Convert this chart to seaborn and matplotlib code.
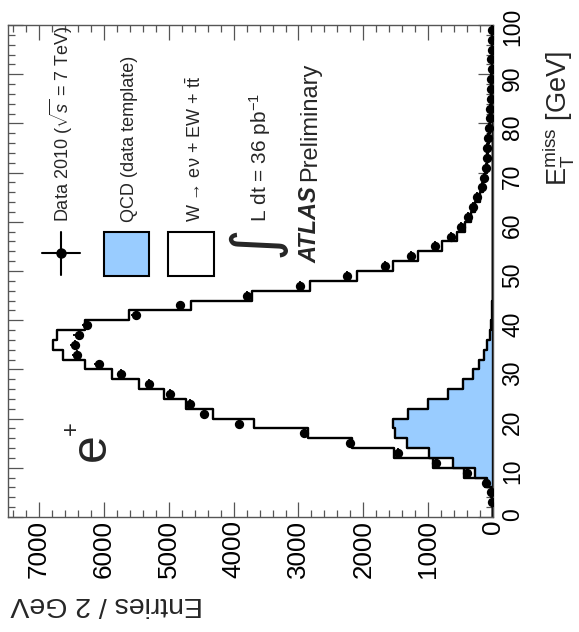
import numpy as np
import pandas as pd
import matplotlib
matplotlib.use("Agg")
import matplotlib.pyplot as plt
import seaborn as sns
from matplotlib.ticker import MultipleLocator
from matplotlib.patches import Rectangle
from matplotlib.lines import Line2D
from matplotlib.transforms import ScaledTranslation

# Missing transverse energy, 2 GeV bins from 0 to 100 GeV
bin_edges = list(range(0, 102, 2))
bin_centers = [e + 1 for e in bin_edges[:-1]]

# QCD background (data-driven template), entries per bin
qcd = [0, 4, 20, 100, 277, 620, 980, 1330, 1510, 1535,
       1315, 1005, 695, 470, 315, 210, 140, 85, 45, 30,
       15, 8, 5, 3, 2, 1, 0, 0, 0, 0,
       0, 0, 0, 0, 0, 0, 0, 0, 0, 0,
       0, 0, 0, 0, 0, 0, 0, 0, 0, 0]

# W -> e nu + EW + ttbar, entries per bin
w_ewk_ttbar = [0, 1, 5, 30, 163, 310, 550, 840, 1340, 2145,
               3005, 3735, 4385, 4990, 5565, 6090, 6490, 6705, 6685, 6260,
               5595, 4652, 3705, 2812, 2098, 1534, 1150, 790, 560, 430,
               340, 270, 205, 160, 125, 100, 85, 72, 60, 50,
               42, 36, 32, 28, 24, 21, 19, 17, 15, 13]

# Data 2010, entries per bin
data_2010 = [0, 8, 35, 110, 405, 880, 1470, 2210, 2920, 3910,
             4450, 4680, 4980, 5300, 5730, 6080, 6420, 6450, 6390, 6260,
             5510, 4820, 3790, 2980, 2250, 1670, 1265, 890, 655, 490,
             380, 315, 242, 172, 140, 108, 95, 85, 70, 58,
             48, 44, 38, 34, 28, 22, 25, 20, 18, 16]

entries_ticks = list(range(0, 8000, 1000))
met_ticks = list(range(0, 110, 10))

df = pd.DataFrame({
    "met": bin_centers,
    "qcd": qcd,
    "total": np.array(qcd) + np.array(w_ewk_ttbar),
    "data": data_2010,
})

sns.set_theme(style="white")
plt.rcParams["font.family"] = ["Liberation Sans", "DejaVu Sans"]
plt.rcParams["mathtext.fontset"] = "custom"
plt.rcParams["mathtext.rm"] = "Liberation Sans"
plt.rcParams["mathtext.it"] = "Liberation Sans:italic"
plt.rcParams["mathtext.bf"] = "Liberation Sans:bold"

W, H = 579, 632
fig = plt.figure(figsize=(W / 100, H / 100), dpi=100)
fig.patch.set_facecolor("white")
ax = fig.add_axes([8 / W, 1 - 517 / H, 485 / W, 492 / H])
ax.set_facecolor("white")

# Stacked prediction: total outline (white) with QCD (blue) on top
sns.histplot(data=df, y="met", weights="total", bins=bin_edges,
             element="step", fill=True, color="white", alpha=1,
             edgecolor="black", linewidth=1.7, ax=ax)
sns.histplot(data=df, y="met", weights="qcd", bins=bin_edges,
             element="step", fill=True, color="#99ccff", alpha=1,
             edgecolor="black", linewidth=1.7, ax=ax)

# Data points with statistical and bin-width error bars
pts = df[df["data"] > 0]
ax.errorbar(pts["data"], pts["met"], xerr=np.sqrt(pts["data"]), yerr=1.0,
            fmt="none", ecolor="black", elinewidth=1.3, zorder=4)
sns.scatterplot(data=pts, x="data", y="met", color="black", s=45,
                linewidth=0, ax=ax, zorder=5)

ax.set_xlim(7480, 0)
ax.set_ylim(0, 100)
ax.set_xticks(entries_ticks)
ax.xaxis.set_minor_locator(MultipleLocator(200))
ax.set_yticks(met_ticks)
ax.yaxis.set_minor_locator(MultipleLocator(2))

frame_col = "#555555"
for sp in ax.spines.values():
    sp.set_color(frame_col)
    sp.set_linewidth(1.0)

ax.tick_params(which="both", direction="in", top=True, bottom=True,
               left=True, right=True, color=frame_col, width=0.9)
ax.tick_params(which="major", length=10.5)
ax.tick_params(which="minor", length=5)
ax.tick_params(axis="x", labelbottom=True, labeltop=False, labelrotation=90,
               labelsize=18.7, pad=2, labelcolor="black")
ax.tick_params(axis="y", labelleft=False, labelright=True, labelrotation=90,
               labelsize=16.5, pad=6, labelcolor="black")

# Axis titles
ax.set_xlabel("Entries / 2 GeV", rotation=180, rotation_mode="anchor",
              ha="left", va="baseline", fontsize=20.5)
ax.xaxis.set_label_coords((203 - 8) / 485, (517 - 597) / 492)
ax.yaxis.set_label_position("right")
ax.set_ylabel(r"$\mathrm{E}_{\mathrm{T}}^{\mathrm{miss}}$ [GeV]", rotation=90,
              rotation_mode="anchor", ha="left", va="baseline", fontsize=19.5)
ax.yaxis.set_label_coords((567 - 8) / 485, (517 - 186) / 492)


def fx(X):
    return X / W


def fy(Y):
    return 1 - Y / H


def rtext(X, Y, s, size, rot=90, **kw):
    return fig.text(fx(X), fy(Y), s, rotation=rot, rotation_mode="anchor",
                    ha="left", va="baseline", fontsize=size, **kw)


# Legend (drawn sideways along the frame)
fig.add_artist(Line2D([fx(61), fx(61)], [fy(232), fy(275)], color="black", lw=1.5))
fig.add_artist(Line2D([fx(42), fx(80)], [fy(253), fy(253)], color="black", lw=1.5))
fig.add_artist(Line2D([fx(61)], [fy(253)], marker="o", ms=6.5, color="black"))
fig.add_artist(Rectangle((fx(104), fy(276)), 45 / W, 44 / H, transform=fig.transFigure,
                         facecolor="#99ccff", edgecolor="black", lw=1.5))
fig.add_artist(Rectangle((fx(168), fy(276)), 46 / W, 44 / H, transform=fig.transFigure,
                         facecolor="white", edgecolor="black", lw=1.5))

rtext(69, 222, r"Data 2010 ($\sqrt{s}$ = 7 TeV)", 13)
rtext(134, 222, "QCD (data template)", 13)
rtext(201, 222, "W \u2192 e\u03bd + EW + t$\\bar{\\mathrm{t}}$", 13)
fig.text(fx(256), fy(241), "\u222b", rotation=90, ha="center", va="center",
         fontsize=44, family="DejaVu Sans")
rtext(267, 222, r"L dt = 36 pb$^{-1}$", 15)
atlas = rtext(316, 263, "ATLAS", 17, weight="bold", style="italic")

rtext(105, 461, "e", 36)
fig.text(fx(72), fy(428), "+", rotation=90, ha="center", va="center", fontsize=17)

fig.canvas.draw()

# "Preliminary" follows directly after the ATLAS tag
bb = atlas.get_window_extent()
fig.text(fx(316), (bb.y1 + 5) / H, "Preliminary", rotation=90,
         rotation_mode="anchor", ha="left", va="baseline", fontsize=17)

# The top E_T tick label is nudged up toward the upper edge
for t in ax.yaxis.get_major_ticks():
    if abs(t.get_loc() - 100) < 1e-6:
        t.label2.set_transform(t.label2.get_transform()
                               + ScaledTranslation(0, 6 / 72, fig.dpi_scale_trans))

fig.savefig("out.png", dpi=100, facecolor="white")
